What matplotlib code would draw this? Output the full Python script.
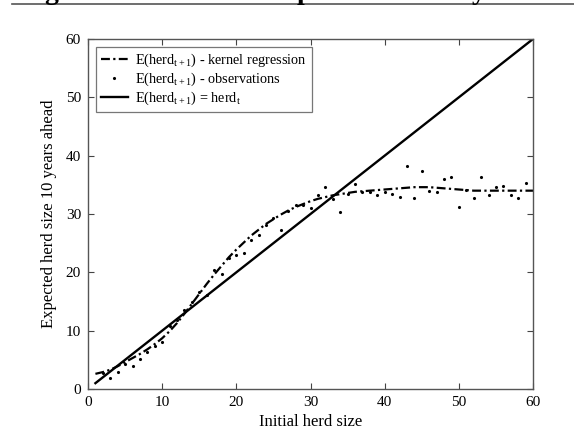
import numpy as np
import matplotlib
matplotlib.use("Agg")
import matplotlib.pyplot as plt
from matplotlib.lines import Line2D

plt.rcParams["font.family"] = ["Liberation Serif", "DejaVu Serif"]
plt.rcParams["mathtext.fontset"] = "custom"
plt.rcParams["mathtext.rm"] = "Liberation Serif"
plt.rcParams["mathtext.it"] = "Liberation Serif"

# kernel regression estimate of herd size 10 years ahead
herd_grid = list(range(1, 61))
herd_kernel = [2.6, 2.9, 3.3, 3.9, 4.6, 5.3, 6.0, 6.8, 7.7, 8.7,
               9.9, 11.3, 12.9, 14.6, 16.3, 18.0, 19.6, 21.1, 22.6, 23.9,
               25.1, 26.3, 27.3, 28.3, 29.1, 29.9, 30.6, 31.2, 31.7, 32.2,
               32.6, 32.9, 33.2, 33.4, 33.6, 33.8, 33.9, 34.0, 34.1, 34.2,
               34.3, 34.4, 34.5, 34.6, 34.6, 34.6, 34.5, 34.4, 34.3, 34.2,
               34.1, 34.0, 34.0, 34.0, 34.0, 34.0, 34.0, 34.0, 34.0, 34.0]

# observed averages
obs_x = [2, 3, 4, 5, 6, 7, 8, 9, 10, 11, 12, 13, 14, 15, 16, 17, 18, 19,
         20, 21, 22, 23, 24, 25, 26, 27, 28, 29, 30, 31, 32, 33, 34, 35,
         36, 37, 38, 39, 40, 41, 42, 43, 44, 45, 46, 47, 48, 49, 50, 51,
         52, 53, 54, 55, 56, 57, 58, 59]
obs_y = [2.7, 1.9, 2.9, 4.3, 4.0, 5.2, 6.3, 7.4, 8.0, 10.8, 11.8, 13.5, 15.0,
         16.6, 16.1, 20.4, 19.8, 22.4, 23.0, 23.3, 25.5, 26.4, 28.2, 29.3,
         27.2, 30.5, 31.6, 31.6, 31.1, 33.2, 34.7, 32.6, 30.4, 33.4, 35.1,
         33.8, 33.8, 33.2, 33.8, 33.5, 33.0, 38.2, 32.8, 37.3, 34.0, 33.7,
         36.0, 36.4, 31.2, 34.1, 32.7, 36.4, 33.3, 34.6, 34.8, 33.2, 32.7,
         35.3]

# 45 degree reference line
diag_x = [1, 60]
diag_y = [1, 60]

W, H = 574, 429
fig = plt.figure(figsize=(W / 100, H / 100), dpi=100)
ax = fig.add_axes([88 / W, 1 - 389 / H, 445 / W, 350 / H])

ax.plot(herd_grid, herd_kernel, color="black", lw=1.6, ls=(0, (4, 1.5, 1, 1.5)),
        label=r"E(herd$_{\mathrm{t+1}}$) - kernel regression")
ax.plot(obs_x, obs_y, ls="none", marker=".", ms=2.5, color="black",
        label=r"E(herd$_{\mathrm{t+1}}$) - observations")
ax.plot(diag_x, diag_y, color="black", lw=1.7,
        label=r"E(herd$_{\mathrm{t+1}}$) = herd$_{\mathrm{t}}$")

ax.set_xlim(0, 60)
ax.set_ylim(0, 60)
ax.set_xticks(range(0, 61, 10))
ax.set_yticks(range(0, 61, 10))
ax.tick_params(direction="in", top=True, right=True, length=4,
               labelsize=11, color="#444444", pad=5)
for s in ax.spines.values():
    s.set_color("#555555")
    s.set_linewidth(1.0)

ax.set_xlabel("Initial herd size", fontsize=12, labelpad=4)
ax.set_ylabel("Expected herd size 10 years ahead", fontsize=12, labelpad=6)

leg = ax.legend(loc="upper left", fontsize=10.3, frameon=True, fancybox=False,
                handlelength=1.9, borderpad=0.35, labelspacing=0.12,
                handletextpad=0.5, borderaxespad=0.55)
leg.get_frame().set_edgecolor("#555555")
leg.get_frame().set_linewidth(0.9)

# rule and clipped heading above the chart
fig.add_artist(Line2D([12 / W, 1], [1 - 4 / H, 1 - 4 / H],
                      color="#555555", lw=1.2))
for hx, ch in [(44, "g"), (297, "p"), (472, "y")]:
    fig.text(hx / W, 1 + 1 / H, ch, fontsize=20, fontweight="bold",
             va="baseline", ha="left")

fig.savefig("out.png", dpi=100)
